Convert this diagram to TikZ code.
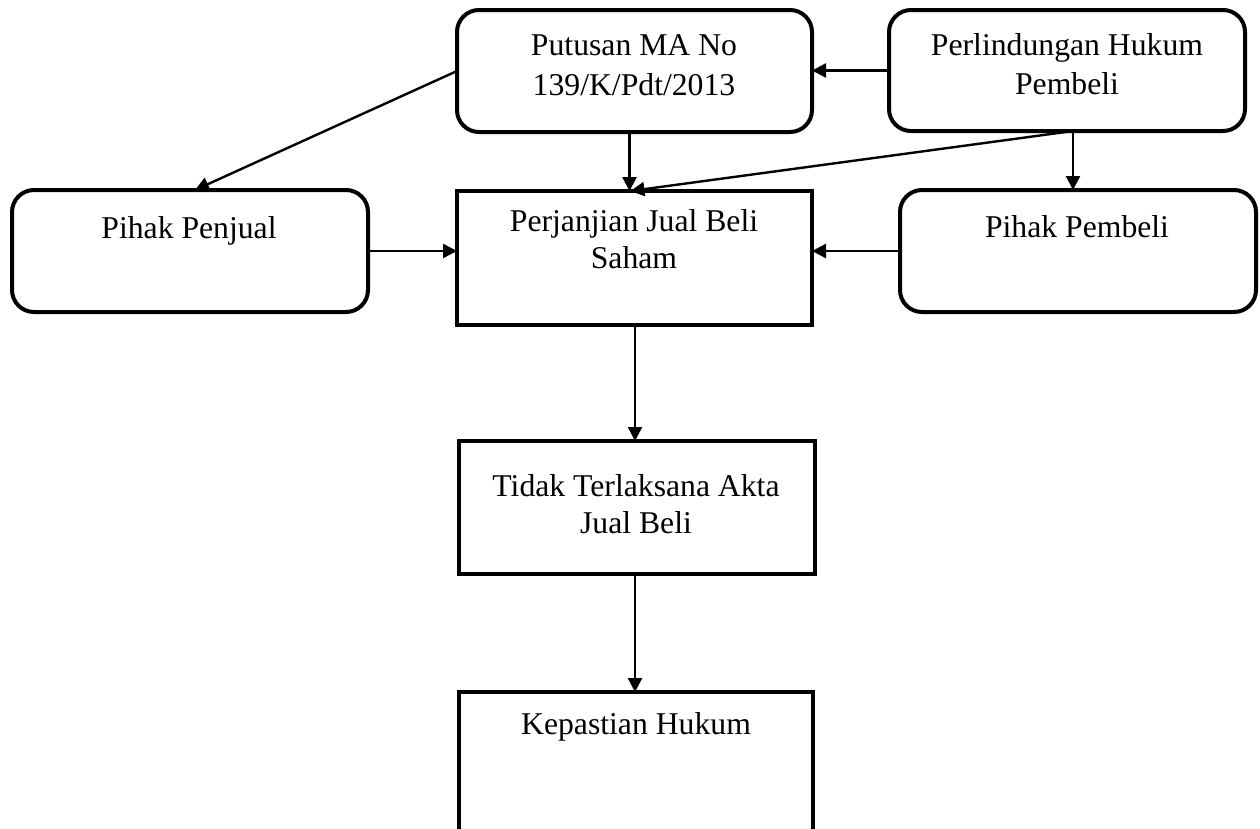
\documentclass[tikz,border=0pt]{standalone}
\usepackage{fontspec}
\setmainfont{Liberation Serif}
\usetikzlibrary{arrows.meta}
\begin{document}
\begin{tikzpicture}[x=1pt,y=-1pt,
  every node/.style={inner sep=0pt, outer sep=0pt},
  rbox/.style={draw, line width=4pt, rounded corners=22pt},
  sbox/.style={draw, line width=4pt},
  txt/.style={anchor=base, font=\fontsize{31.7}{40}\selectfont},
  arr/.style={line width=2.4pt, -{Triangle[length=14pt,width=14pt]}}]
\clip (0,0) rectangle (1260,828);
\fill[white] (0,0) rectangle (1260,828);
% boxes
\node[rbox, minimum width=355pt, minimum height=122pt] (putusan) at (634.5,71) {};
\node[rbox, minimum width=356pt, minimum height=121pt] (perlin) at (1067,70.5) {};
\node[rbox, minimum width=356pt, minimum height=122pt] (penjual) at (190,251) {};
\node[sbox, minimum width=355pt, minimum height=134pt] (perj) at (634.5,258) {};
\node[rbox, minimum width=356pt, minimum height=122pt] (pembeli) at (1078,251) {};
\node[sbox, minimum width=356pt, minimum height=133pt] (tidak) at (637,507.5) {};
\node[sbox, minimum width=354pt, minimum height=208pt] (kep) at (636,796) {};
% texts
\node[txt] (putusan1) at (634,55) {Putusan MA No};
\node[txt] (putusan2) at (634,95) {139/K/Pdt/2013};
\node[txt] (perlin1) at (1067,55) {Perlindungan Hukum};
\node[txt] (perlin2) at (1067,94) {Pembeli};
\node[txt] (penjual1) at (189,238) {Pihak Penjual};
\node[txt] (pembeli1) at (1077,237) {Pihak Pembeli};
\node[txt] (perj1) at (634,231) {Perjanjian Jual Beli};
\node[txt] (perj2) at (634,268) {Saham};
\node[txt] (tidak1) at (636,496) {Tidak Terlaksana Akta};
\node[txt] (tidak2) at (636,533) {Jual Beli};
\node[txt] (kep1) at (636,734) {Kepastian Hukum};
% connectors
\coordinate (pl) at ([xshift=6pt]perlin.south);
\coordinate (pjtop) at ([xshift=-4pt]perj.north);
\coordinate (pu) at ([xshift=-5pt]putusan.south);
\draw[arr] (perlin.west) -- (perlin.west -| putusan.east);
\draw[arr] (putusan.west) -- ([xshift=5pt]penjual.north);
\draw[arr] (pu) -- (pu |- perj.north);
\draw[arr] (pl) -- (pjtop);
\draw[arr] (pl) -- (pl |- pembeli.north);
\draw[arr] (penjual.east) -- (penjual.east -| perj.west);
\draw[arr] (pembeli.west) -- (pembeli.west -| perj.east);
\coordinate (mid) at ([xshift=0.5pt]perj.south);
\draw[arr] (mid) -- (mid |- tidak.north);
\coordinate (mid2) at (mid |- tidak.south);
\draw[arr] (mid2) -- (mid2 |- kep.north);
\end{tikzpicture}
\end{document}
